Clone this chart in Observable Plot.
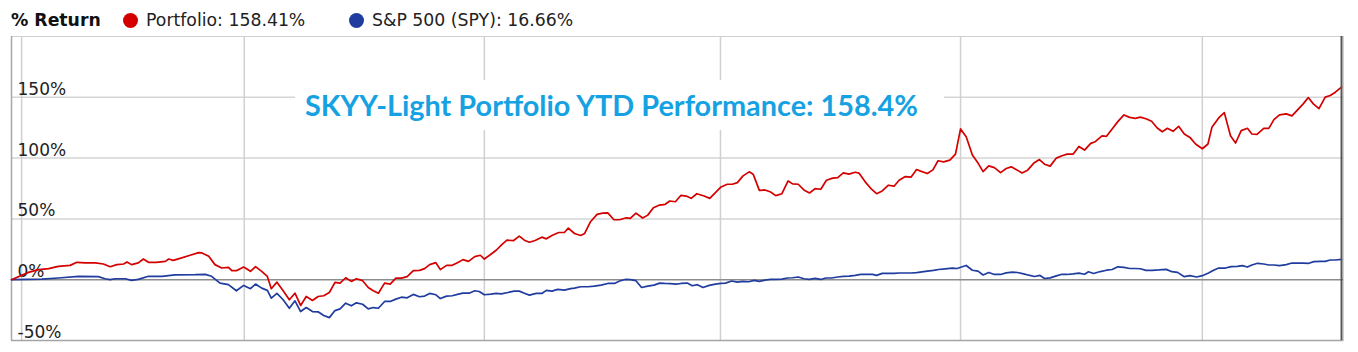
<!DOCTYPE html>
<html>
<head>
<meta charset="utf-8">
<script src="https://cdn.jsdelivr.net/npm/d3@7"></script>
<script src="https://cdn.jsdelivr.net/npm/@observablehq/plot@0.6"></script>
<style>
  html, body { margin: 0; padding: 0; background: #fff; }
  #wrap { position: relative; width: 1358px; height: 352px; overflow: hidden; font-family: "DejaVu Sans", Verdana, sans-serif; }
  #legend { position: relative; height: 35px; }
  .lg { position: absolute; top: 12px; font-size: 17.3px; line-height: 17px; color: #222; white-space: pre; }
  .dot { position: absolute; width: 15px; height: 15px; border-radius: 50%; top: 13px; }
  #chart svg { display: block; }
  #titlebox { position: absolute; left: 295px; top: 80px; width: 649px; height: 50px; background: #fff; line-height: 50px; }
  #title { position: absolute; left: 10px; top: 0; display: inline-block; font-family: Lato, "Open Sans", sans-serif; font-weight: 700; font-size: 28px; color: #16a2e2; white-space: nowrap; transform-origin: 0 50%; }
</style>
</head>
<body>
<div id="wrap">
  <div id="legend"></div>
  <div id="chart"></div>
  <div id="titlebox"><span id="title"></span></div>
</div>
<script>
// ---- Chart data ----
const chartTitle = "SKYY-Light Portfolio YTD Performance: 158.4%";
const legendHeading = "% Return";
const seriesNames = ["Portfolio", "S&P 500 (SPY)"];
const seriesFinal = ["158.41%", "16.66%"];
const seriesColors = ["#d40000", "#1f3c9e"];

// Trading-day index (0 = last close of prior year) for each vertex
const portfolioDay = [0,3.0,4.8,6.6,8.3,10.4,11.6,13.1,14.9,16.3,17.5,18.7,19.9,20.5,21.3,22.5,23.4,24.3,25.7,27.3,27.9,28.7,30.2,31.7,33.2,33.8,35.0,36.1,37.3,38.5,39.1,
  39.9,41.2,42.4,43.3,44.4,45.4,46.1,47.1,48.2,49.3,50.3,51.3,52.3,53.4,54.4,55.4,56.4,57.4,58.3,59.3,60.3,61.2,62.3,63.3,64.2,65.1,66.2,67.2,68.2,69.2,70.2,71.3,72.4,73.3,74.2,75.3,76.1,77.2,78.2,79.3,80.1,
  81.1,82.2,83.2,83.9,85.0,86.0,87.0,87.9,89.1,90.1,91.0,91.9,92.9,94.1,94.9,95.9,97.1,98.1,98.8,99.9,101.0,101.7,102.7,103.9,104.9,105.8,106.9,107.9,109.1,109.8,110.8,112.0,112.9,113.9,115.0,116.0,116.8,117.8,118.8,119.7,120.6,
  121.6,122.9,123.9,124.9,125.9,127.0,127.9,128.8,129.8,130.9,131.6,132.7,133.7,134.7,135.6,136.7,137.8,138.6,139.6,140.6,141.6,142.6,143.6,144.6,145.7,146.6,147.6,148.6,149.7,150.4,151.6,152.6,153.5,154.5,155.6,156.6,157.5,158.6,159.6,160.6,161.2,
  162.5,163.5,164.4,165.4,166.5,167.5,168.4,169.4,170.5,171.5,172.4,173.4,174.4,175.5,176.5,177.4,178.4,179.3,180.3,181.4,182.4,183.3,184.3,185.4,186.4,187.3,188.4,189.4,190.4,191.5,192.3,193.5,194.3,195.3,196.3,197.4,198.4,199.4,200.3,201.3,202.3,
  203.3,204.2,205.1,206.1,207.1,208.1,209.1,210.1,211.3,212.3,213.0,214.2,215.2,216.3,217.2,218.2,219.3,220.1,221.0,222.2,223.1,224.0,225.0,226.2,227.2,228.2,229.2,230.1,231.0,232.0,233.1,234.0,234.9,236.0];
const portfolioPct = [0,6.0,8.3,9.1,11.0,11.8,14.3,13.8,13.8,12.9,10.7,12.4,12.9,14.6,12.4,13.8,17.0,14.3,14.3,15.1,17.0,15.9,17.9,20.1,22.3,22.0,19.3,12.4,9.6,10.2,7.4,
  7.4,10.4,6.9,10.7,6.9,2.7,-7.4,-2.0,-9.1,-16.5,-11.1,-21.2,-13.8,-17.1,-13.8,-13.2,-10.5,-2.2,-2.8,1.6,-1.4,0.8,-0.8,-6.4,-9.1,-11.1,-2.8,-3.6,1.3,1.3,2.5,7.4,7.7,9.1,12.4,14.0,8.3,11.8,11.8,14.3,16.5,
  15.1,19.0,20.1,17.0,20.7,24.2,28.9,32.5,32.2,35.8,32.5,30.8,32.2,35.0,33.6,36.4,38.8,38.8,42.4,38.0,36.4,38.0,47.4,53.7,54.8,55.0,49.3,49.3,50.9,50.4,54.8,50.7,53.1,59.2,61.4,62.0,64.7,64.1,69.4,68.8,66.9,
  70.7,68.8,66.9,71.6,76.3,78.5,78.5,79.8,85.4,88.7,86.8,73.5,73.8,72.1,69.1,70.7,81.2,78.8,78.5,73.8,71.3,74.9,74.4,81.8,83.5,84.0,87.8,86.8,88.4,87.6,79.8,74.4,70.7,73.0,77.7,76.9,81.8,84.8,84.3,90.6,89.5,
  87.3,90.3,97.8,96.9,98.3,103.3,124.0,117.6,102.5,95.9,88.9,93.6,92.2,88.1,91.4,92.8,90.3,87.8,90.1,95.9,98.8,95.0,93.4,100.0,101.9,103.3,103.3,109.6,106.6,112.1,113.5,118.2,117.9,124.0,130.0,135.5,133.5,132.7,133.7,132.4,130.3,
  124.8,121.7,124.5,122.0,126.1,119.8,117.0,111.6,107.7,111.6,125.3,133.0,137.4,118.4,112.4,122.6,124.5,119.8,119.5,124.5,124.5,131.6,135.5,136.4,134.7,139.7,144.6,149.8,144.6,140.7,150.1,151.5,154.2,158.41];

const spyDay = [0,5.4,8.3,11.9,15.4,16.6,17.5,18.4,20.2,21.3,22.5,24.3,26.7,29.0,32.6,34.4,35.5,37.0,38.5,
  39.9,41.2,42.4,43.3,44.4,45.4,46.1,47.1,48.2,49.3,50.3,51.3,52.3,53.4,54.4,55.4,56.4,57.4,58.3,59.3,60.3,61.2,62.3,63.3,64.2,65.1,66.2,67.2,68.2,69.2,70.2,71.3,72.4,73.3,74.2,75.3,76.1,77.2,78.2,79.3,80.1,
  81.2,82.2,83.0,83.9,85.1,86.0,86.9,88.1,89.2,90.1,91.0,91.9,93.1,94.1,94.9,95.9,96.9,98.1,99.2,99.9,101.0,102.3,103.4,104.6,105.8,107.0,107.9,108.9,109.8,110.8,111.8,112.9,114.0,115.0,115.9,116.9,117.9,118.8,119.9,120.8,
  121.7,122.7,123.8,124.9,125.9,126.7,127.8,128.8,129.7,130.8,131.8,132.7,133.7,134.7,135.6,136.7,137.7,138.6,139.6,140.6,141.6,142.6,143.6,144.5,145.5,146.6,147.6,148.6,149.7,150.7,151.6,152.8,153.5,154.5,155.6,156.6,157.5,158.6,159.6,160.6,
  162.5,163.6,164.5,165.7,166.9,167.8,168.7,169.4,170.5,171.5,172.4,173.4,174.4,175.5,176.5,177.6,178.5,179.6,180.5,181.5,182.5,183.3,184.3,185.4,186.4,187.3,188.4,189.4,190.4,191.1,192.0,193.2,194.3,195.3,196.3,197.4,198.4,199.4,200.3,201.3,202.4,
  203.6,204.9,205.9,206.9,208.1,209.1,210.3,211.3,212.4,213.3,214.2,215.4,216.4,217.5,218.4,219.3,220.1,221.1,222.2,223.1,224.0,225.0,226.2,227.2,228.2,229.2,230.2,231.1,232.3,233.1,234.0,234.9,236.0];
const spyPct = [0,0.5,1.4,2.8,2.5,0.8,0.0,0.8,0.8,-0.6,0.3,2.8,2.8,3.9,4.1,4.4,2.8,-2.8,-4.1,
  -9.1,-4.7,-7.4,-3.6,-6.9,-8.8,-15.2,-11.3,-16.5,-23.5,-17.4,-26.2,-22.9,-26.2,-26.4,-29.5,-31.2,-25.4,-24.0,-19.3,-21.5,-19.0,-20.2,-24.0,-22.9,-23.5,-17.9,-17.9,-16.0,-14.4,-14.9,-12.1,-14.0,-13.5,-11.3,-12.4,-15.5,-13.5,-13.2,-11.9,-11.1,
  -11.1,-9.1,-9.7,-12.4,-11.9,-11.3,-11.6,-10.5,-9.4,-9.4,-11.1,-12.7,-11.3,-11.3,-8.8,-9.4,-8.0,-8.6,-7.4,-6.9,-5.8,-5.8,-5.3,-4.5,-3.1,-3.1,-1.1,0.2,0.0,-0.8,-6.4,-5.3,-4.5,-2.8,-3.1,-3.3,-3.6,-3.1,-2.8,-5.0,
  -4.1,-6.4,-4.7,-3.6,-3.1,-2.8,-1.1,-2.0,-1.4,-1.7,-0.6,-1.4,-0.3,0.2,0.2,0.5,1.4,1.6,2.2,0.8,0.2,1.1,0.2,1.4,1.4,2.2,2.7,3.0,3.6,4.4,4.4,4.4,3.6,5.2,5.2,5.2,5.5,5.5,5.5,5.8,
  7.0,7.6,8.4,8.9,9.5,9.2,10.6,11.7,7.8,7.0,3.9,5.9,4.3,4.3,5.6,6.2,5.9,4.8,3.7,2.6,3.5,1.0,1.5,3.1,4.5,4.3,4.8,5.4,4.5,6.5,5.1,6.7,7.8,8.4,10.6,10.1,9.2,9.2,9.0,7.7,7.7,
  8.0,8.5,6.6,6.0,2.5,3.3,2.2,3.3,5.5,7.7,9.6,9.6,10.7,11.0,11.6,10.4,12.1,13.5,12.9,12.1,12.1,11.6,12.4,13.7,13.7,13.7,13.5,14.9,15.1,15.1,16.2,16.2,16.66];

// Axis / grid
const yTicks = [-50, 0, 50, 100, 150];
const yDomain = [-50, 200];
const monthGridDays = [1.8, 41.3, 83.9, 125.8, 168.4, 211.3]; // Jan, Mar, May, Jul, Sep, Nov
const xDomain = [0, 236.35];

// ---- Legend (header) ----
const legend = document.getElementById("legend");
legend.innerHTML = `
  <span class="lg" style="left:11px;font-weight:bold;color:#111">${legendHeading}</span>
  <span class="dot" style="left:123px;background:${seriesColors[0]}"></span>
  <span class="lg" style="left:146px">${seriesNames[0]}: ${seriesFinal[0]}</span>
  <span class="dot" style="left:349px;background:${seriesColors[1]}"></span>
  <span class="lg" style="left:372px">${seriesNames[1].replace("&","&amp;")}: ${seriesFinal[1]}</span>`;

// ---- Chart ----
const portfolio = portfolioDay.map((d, i) => ({day: d, pct: portfolioPct[i]}));
const spy = spyDay.map((d, i) => ({day: d, pct: spyPct[i]}));
const lastDay = portfolioDay[portfolioDay.length - 1];

const chart = Plot.plot({
  width: 1358,
  height: 317,
  marginTop: 1,
  marginBottom: 12,
  marginLeft: 11,
  marginRight: 15,
  x: {domain: xDomain, axis: null},
  y: {domain: yDomain, axis: null},
  style: {background: "transparent", fontFamily: "'DejaVu Sans', Verdana, sans-serif"},
  marks: [
    Plot.ruleY(yTicks.filter(v => v > 0), {stroke: "#d5d5d5", strokeWidth: 1.5}),
    Plot.ruleX(monthGridDays, {stroke: "#d0d0d0", strokeWidth: 1.5}),
    Plot.frame({stroke: "#d0d0d0"}),
    Plot.ruleX([xDomain[0]], {stroke: "#a8a8a8", strokeWidth: 1.5}),
    Plot.ruleY([yDomain[0]], {stroke: "#a5a5a5", strokeWidth: 1.5}),
    Plot.ruleY([0], {stroke: "#8c8c8c", strokeWidth: 1.5}),
    Plot.text(yTicks, {
      y: d => d, text: d => d + "%", frameAnchor: "left", textAnchor: "start",
      lineAnchor: "bottom", dx: 6, dy: -2.5, fill: "#222", fontSize: 17
    }),
    Plot.line(spy, {x: "day", y: "pct", stroke: seriesColors[1], strokeWidth: 1.7}),
    Plot.line(portfolio, {x: "day", y: "pct", stroke: seriesColors[0], strokeWidth: 1.7}),
    Plot.ruleX([lastDay], {stroke: "#555", strokeWidth: 2})
  ]
});
document.getElementById("chart").appendChild(chart);

// ---- Title overlay ----
const t = document.getElementById("title");
t.textContent = chartTitle;
const w = t.getBoundingClientRect().width;
t.style.transform = `scaleX(${613 / w})`;
</script>
</body>
</html>
